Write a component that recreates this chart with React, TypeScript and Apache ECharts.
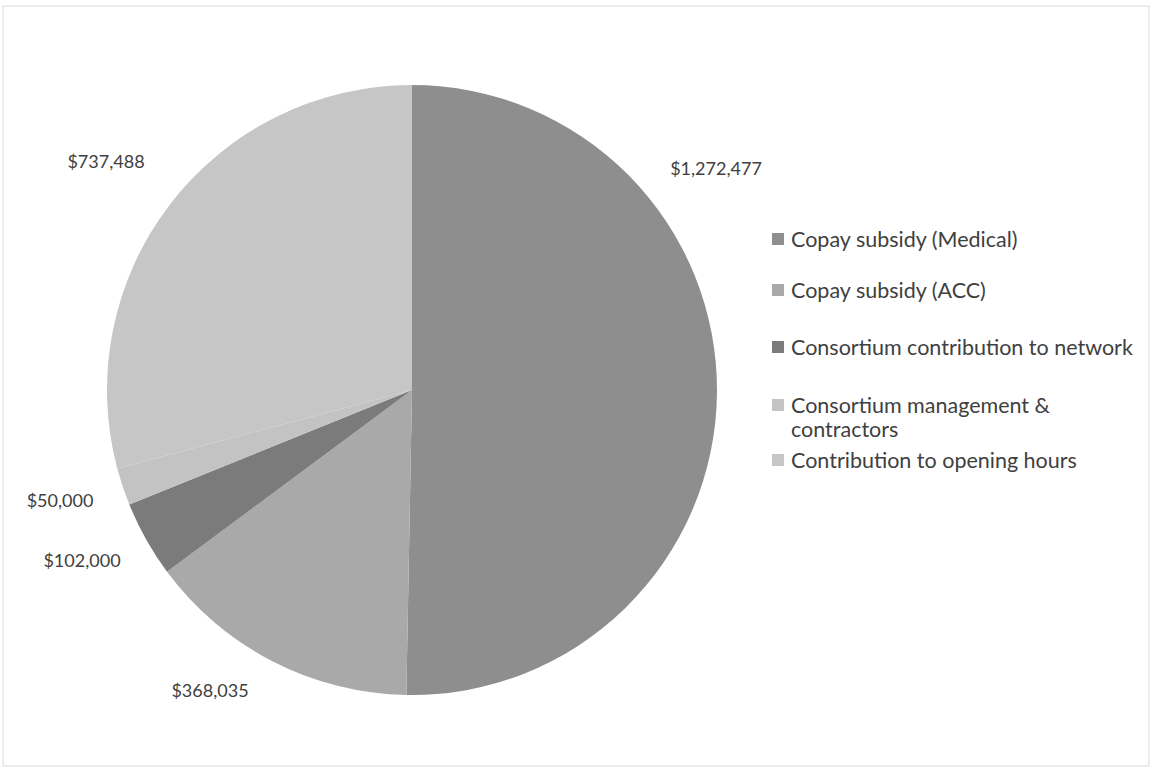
import React, { useEffect, useRef } from "react";
import * as echarts from "echarts";

const categories = [
  "Copay subsidy (Medical)",
  "Copay subsidy (ACC)",
  "Consortium contribution to network",
  "Consortium management & contractors",
  "Contribution to opening hours",
];
const values = [1272477, 368035, 102000, 50000, 737488];
const colors = ["#8e8e8e", "#a9a9a9", "#7b7b7b", "#c3c3c3", "#c6c6c6"];

// label anchor positions (centre of text), in px
const labelPos = [
  [716, 168],
  [210, 690],
  [82, 560],
  [60, 500],
  [106, 161],
];
// legend rows: centre y of first text line
const legendRowY = [239, 290, 347, 405, 460];

const FONT = "Lato, 'Open Sans', sans-serif";
const TEXT = "#404040";

export default function App() {
  const ref = useRef<HTMLDivElement>(null);
  useEffect(() => {
    if (!ref.current) return;
    const chart = echarts.init(ref.current, null, { renderer: "svg" });
    const legends = categories.map((c, i) => ({
      data: [c],
      orient: "vertical",
      left: 772,
      top: legendRowY[i] - 11,
      padding: 0,
      itemWidth: 12,
      itemHeight: 12,
      itemGap: 0,
      icon: "rect",
      selectedMode: false,
      formatter: (name: string) =>
        name === "Consortium management & contractors" ? "Consortium management &" : name,
      textStyle: { fontFamily: FONT, fontSize: 21.5, color: TEXT, lineHeight: 22, padding: [0, 0, 0, 2] },
    }));
    chart.setOption({
      animation: false,
      backgroundColor: "#ffffff",
      color: colors,
      legend: legends,
      graphic: [
        {
          type: "rect",
          shape: { x: 3, y: 6, width: 1146, height: 760 },
          style: { fill: "none", stroke: "#e8e8e8", lineWidth: 1.5 },
          silent: true,
        },
        {
          type: "text",
          x: 791,
          y: 429,
          style: {
            text: "contractors",
            font: `21.5px ${FONT}`,
            lineHeight: 22,
            fill: TEXT,
            verticalAlign: "middle",
            align: "left",
          },
          silent: true,
        },
      ],
      series: [
        {
          type: "pie",
          center: [412, 390],
          radius: 305,
          startAngle: 90,
          clockwise: true,
          avoidLabelOverlap: false,
          itemStyle: { borderWidth: 0 },
          emphasis: { disabled: true },
          label: {
            show: true,
            position: "outside",
            fontFamily: FONT,
            fontSize: 18,
            color: TEXT,
            formatter: (p: any) => "$" + Number(p.value).toLocaleString("en-US"),
          },
          labelLine: { show: false },
          labelLayout: (p: any) => ({
            x: labelPos[p.dataIndex][0],
            y: labelPos[p.dataIndex][1],
            align: "center",
            verticalAlign: "middle",
          }),
          data: categories.map((c, i) => ({ name: c, value: values[i] })),
        },
      ],
    });
    return () => chart.dispose();
  }, []);
  return (
    <div
      ref={ref}
      style={{ position: "fixed", left: 0, top: 0, width: 1153, height: 771, background: "#fff" }}
    />
  );
}
